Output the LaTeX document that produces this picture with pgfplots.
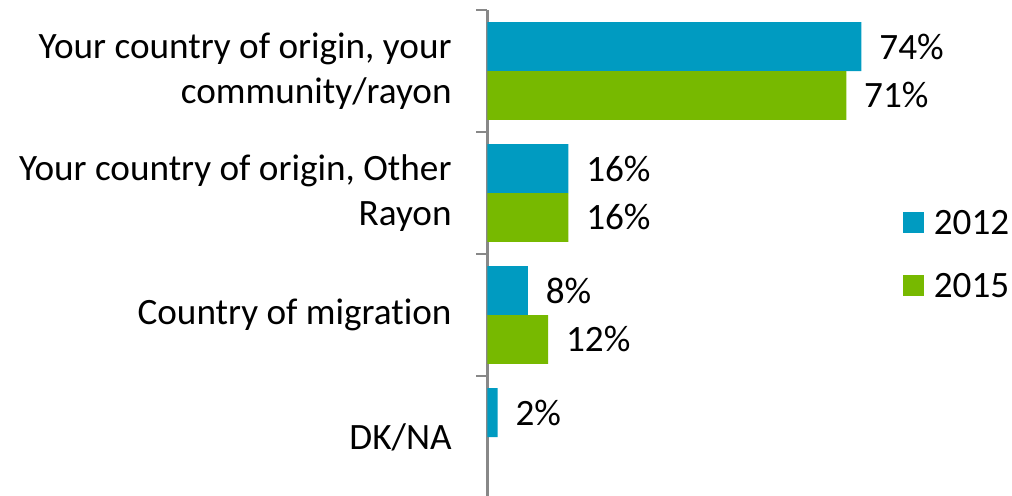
\documentclass[border=0pt]{standalone}
\usepackage{fontspec}
\setmainfont{Carlito}[Ligatures=NoCommon]
\usepackage{pgfplots}
\pgfplotsset{compat=1.18}
\definecolor{c2012}{RGB}{0,155,193}
\definecolor{c2015}{RGB}{119,185,0}
\definecolor{axgray}{RGB}{136,136,136}
\newcommand{\chartfont}{\fontsize{18.6}{22.5}\selectfont}

\begin{document}
\begin{tikzpicture}[font=\chartfont]
\path[use as bounding box] (0,0) rectangle (506pt,248pt);
\begin{axis}[
  at={(243.75pt,-1pt)}, anchor=south west,
  scale only axis, width=257.75pt, height=244pt,
  xbar, bar width=0.4,
  xmin=0, xmax=102,
  ymin=-0.5, ymax=3.5, y dir=reverse,
  axis x line=none,
  axis y line*=left,
  y axis line style={axgray, line width=1.5pt, -},
  ytick={0,1,2,3},
  yticklabels={{Your country of origin, your\\community/rayon},{Your country of origin, Other\\Rayon},{Country of migration},{DK/NA}},
  yticklabel style={align=right, inner sep=0pt, xshift=-17.75pt, font=\chartfont},
  major tick length=0pt,
  minor ytick={-0.5,0.5,1.5,2.5,3.5},
  minor tick length=5.5pt,
  tick align=outside,
  minor tick style={axgray, line width=1pt},
  /pgf/number format/assume math mode=true,
  nodes near coords={\pgfmathprintnumber{\pgfplotspointmeta}\%},
  nodes near coords align=horizontal,
  every node near coord/.append style={anchor=west, inner sep=0pt, xshift=8.75pt, black, font=\chartfont},
  legend style={at={(axis description cs:0.805,0.5)}, anchor=west, draw=none, fill=none, inner sep=0pt,
    row sep=19.5pt, column sep=5pt, font=\chartfont,
    nodes={inner sep=0pt, text height=11.8pt, text depth=0pt}},
  legend image code/.code={\fill[#1, draw=none] (0pt,-5.25pt) rectangle (10.5pt,5.25pt);},
  legend cell align=left,
]
\addplot[fill=c2012, draw=none, bar shift=-0.2] coordinates {(74,0) (16,1) (8,2) (2,3)};
\addplot[fill=c2015, draw=none, bar shift=0.2] coordinates {(71,0) (16,1) (12,2)};
\legend{2012,2015}
\end{axis}
\end{tikzpicture}
\end{document}
